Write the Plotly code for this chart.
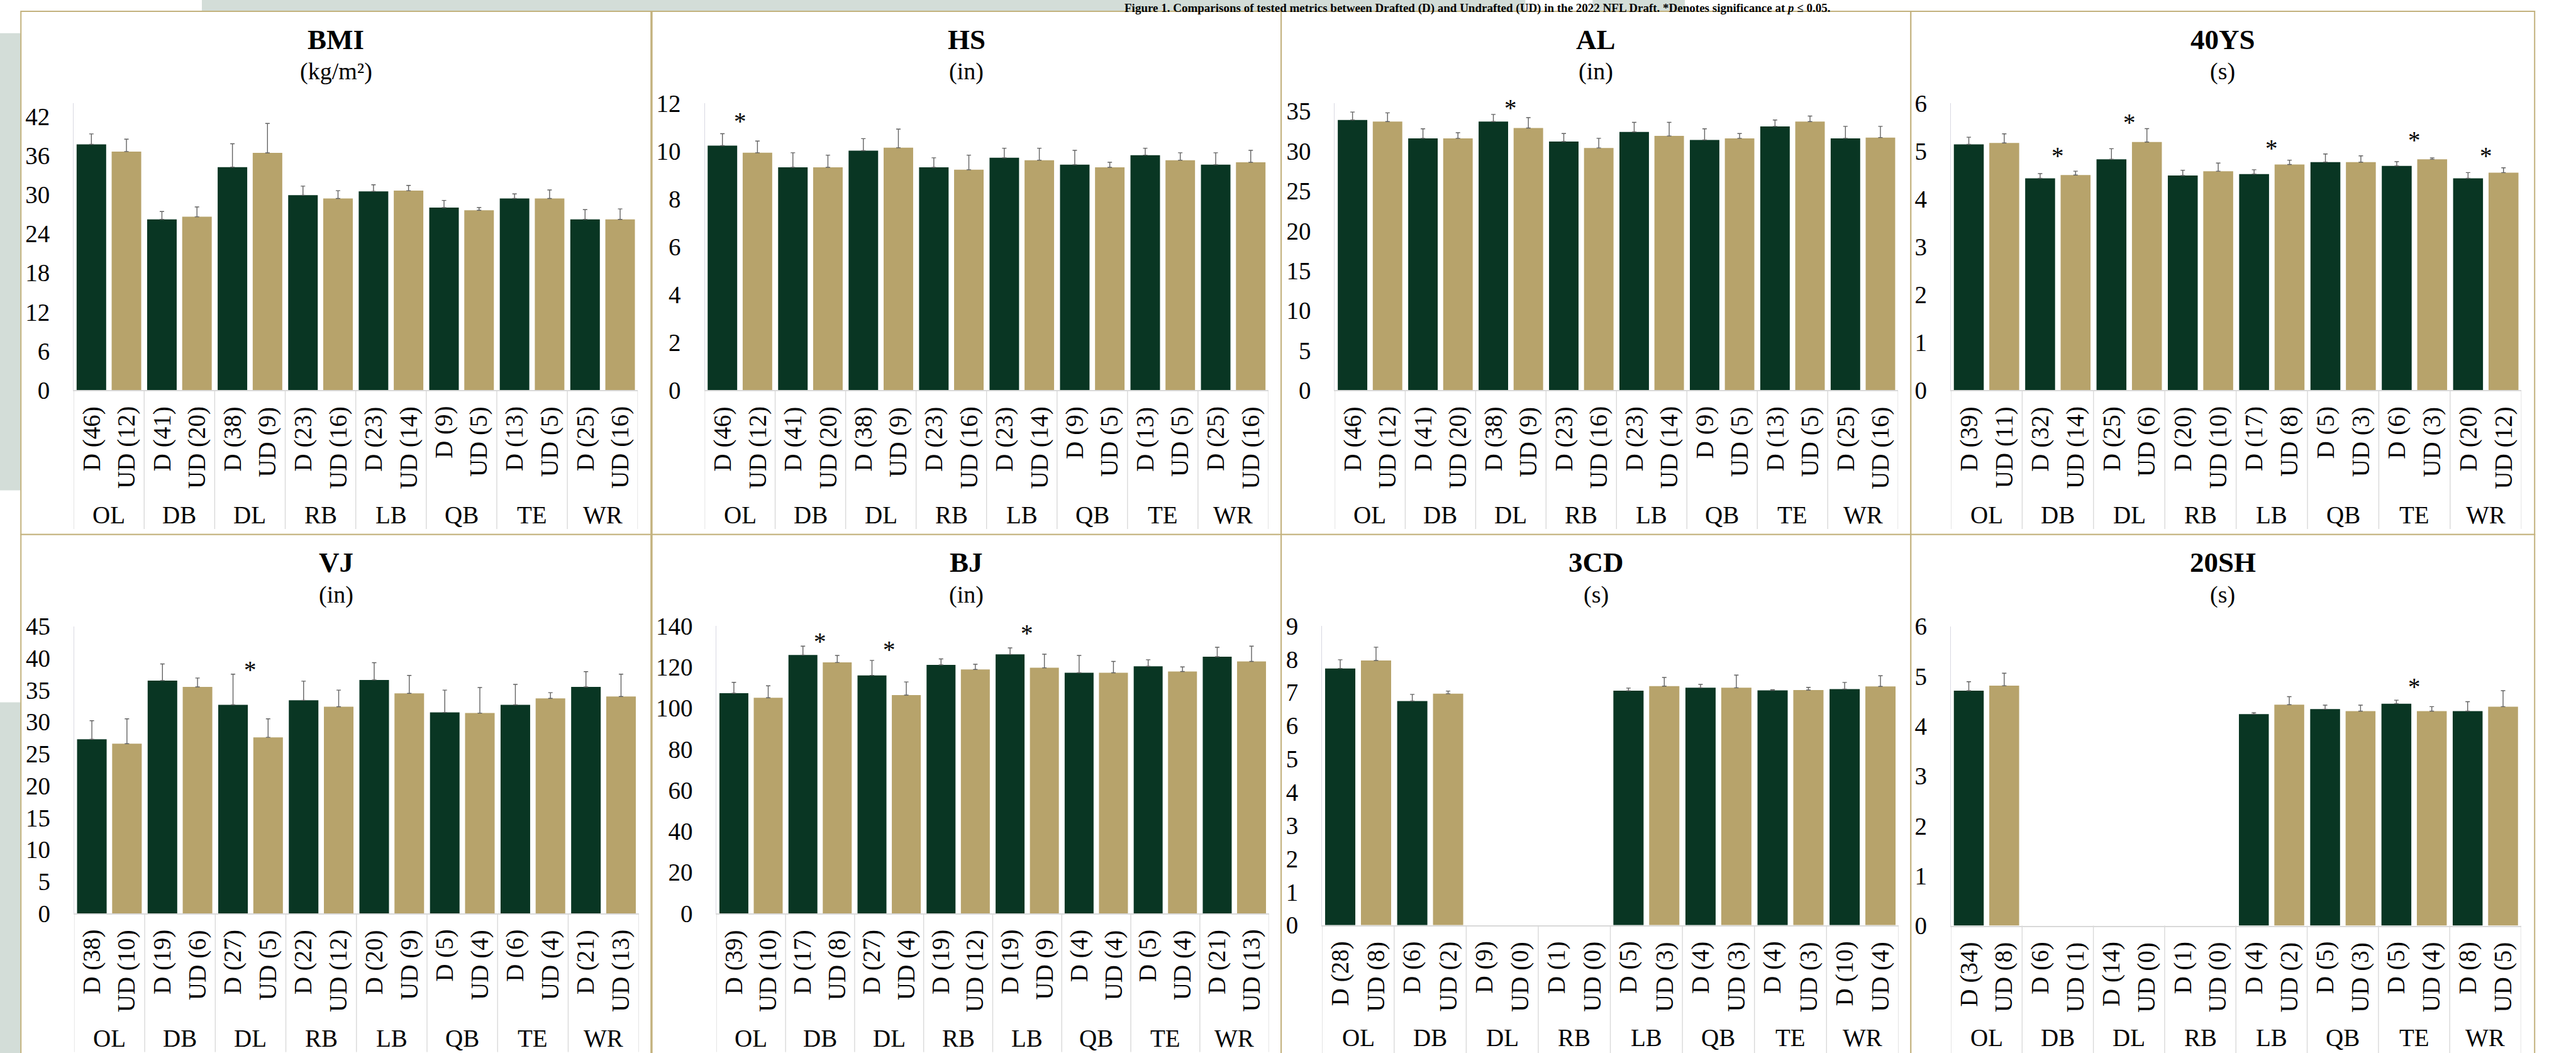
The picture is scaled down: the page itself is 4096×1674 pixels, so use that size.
import plotly.graph_objects as go

# ---------------------------------------------------------------- data
positions = ["OL", "DB", "DL", "RB", "LB", "QB", "TE", "WR"]

# group sizes (drafted / undrafted) per test
n_bmi_d = [46, 41, 38, 23, 23, 9, 13, 25]
n_bmi_ud = [12, 20, 9, 16, 14, 5, 5, 16]
n_40_d = [39, 32, 25, 20, 17, 5, 6, 20]
n_40_ud = [11, 14, 6, 10, 8, 3, 3, 12]
n_vj_d = [38, 19, 27, 22, 20, 5, 6, 21]
n_vj_ud = [10, 6, 5, 12, 9, 4, 4, 13]
n_bj_d = [39, 17, 27, 19, 19, 4, 5, 21]
n_bj_ud = [10, 8, 4, 12, 9, 4, 4, 13]
n_3cd_d = [28, 6, 9, 1, 5, 4, 4, 10]
n_3cd_ud = [8, 2, 0, 0, 3, 3, 3, 4]
n_20_d = [34, 6, 14, 1, 4, 5, 5, 8]
n_20_ud = [8, 1, 0, 0, 2, 3, 4, 5]

# means and standard deviations
bmi_d = [37.7, 26.2, 34.2, 29.9, 30.5, 28.0, 29.4, 26.2]
bmi_d_sd = [1.6, 1.2, 3.6, 1.4, 1.0, 1.1, 0.7, 1.5]
bmi_ud = [36.6, 26.6, 36.4, 29.4, 30.6, 27.6, 29.4, 26.2]
bmi_ud_sd = [1.9, 1.5, 4.5, 1.2, 0.8, 0.4, 1.3, 1.6]

hs_d = [10.23, 9.32, 10.02, 9.32, 9.72, 9.43, 9.83, 9.43]
hs_d_sd = [0.50, 0.61, 0.50, 0.40, 0.40, 0.60, 0.29, 0.50]
hs_ud = [9.93, 9.32, 10.14, 9.22, 9.62, 9.32, 9.62, 9.53]
hs_ud_sd = [0.49, 0.51, 0.78, 0.61, 0.50, 0.21, 0.31, 0.50]

al_d = [33.9, 31.6, 33.7, 31.2, 32.4, 31.4, 33.1, 31.6]
al_d_sd = [1.0, 1.2, 0.9, 1.0, 1.2, 1.4, 0.8, 1.5]
al_ud = [33.7, 31.6, 32.9, 30.4, 31.9, 31.6, 33.7, 31.7]
al_ud_sd = [1.1, 0.7, 1.3, 1.2, 1.7, 0.6, 0.7, 1.4]

ys40_d = [5.14, 4.43, 4.83, 4.49, 4.52, 4.77, 4.69, 4.43]
ys40_d_sd = [0.15, 0.10, 0.22, 0.11, 0.09, 0.17, 0.09, 0.12]
ys40_ud = [5.17, 4.50, 5.19, 4.58, 4.72, 4.77, 4.83, 4.55]
ys40_ud_sd = [0.19, 0.08, 0.28, 0.17, 0.09, 0.13, 0.03, 0.10]

vj_d = [27.3, 36.5, 32.7, 33.4, 36.6, 31.5, 32.7, 35.5]
vj_d_sd = [2.9, 2.6, 4.8, 3.0, 2.7, 3.5, 3.2, 2.4]
vj_ud = [26.6, 35.5, 27.6, 32.4, 34.5, 31.4, 33.7, 34.0]
vj_ud_sd = [3.9, 1.4, 2.9, 2.6, 2.8, 4.0, 0.9, 3.5]

bj_d = [107.2, 125.8, 115.9, 121.0, 126.1, 117.2, 120.3, 125.0]
bj_d_sd = [5.3, 4.3, 7.3, 2.9, 3.2, 8.4, 3.2, 4.6]
bj_ud = [105.0, 122.2, 106.3, 118.8, 119.6, 117.2, 117.8, 122.7]
bj_ud_sd = [5.8, 3.4, 6.4, 2.5, 6.6, 5.5, 2.2, 7.4]

cd3_d = [7.72, 6.74, None, None, 7.05, 7.14, 7.06, 7.10]
cd3_d_sd = [0.26, 0.20, None, None, 0.08, 0.10, 0.02, 0.20]
cd3_ud = [7.96, 6.96, None, None, 7.19, 7.14, 7.07, 7.18]
cd3_ud_sd = [0.40, 0.08, None, None, 0.26, 0.38, 0.08, 0.32]

sh20_d = [4.71, None, None, None, 4.24, 4.34, 4.45, 4.30]
sh20_d_sd = [0.18, None, None, None, 0.03, 0.08, 0.07, 0.19]
sh20_ud = [4.81, None, None, None, 4.43, 4.30, 4.30, 4.39]
sh20_ud_sd = [0.25, None, None, None, 0.16, 0.12, 0.09, 0.32]

# significance markers: (position index, height of the star in axis units)
sig_hs = [(0, 11.45)]
sig_al = [(2, 36.0)]
sig_40 = [(1, 4.99), (2, 5.69), (4, 5.15), (6, 5.32), (7, 4.99)]
sig_vj = [(2, 38.9)]
sig_bj = [(1, 134.5), (2, 130.7), (4, 138.5)]
sig_20 = [(6, 4.88)]

# ---------------------------------------------------------------- style
W_REF, H_REF = 5666, 2315          # layout grid the geometry below is given in
OUT_W, OUT_H = 4096, 1674
K = OUT_W / W_REF

GREEN = "#093623"
TAN = "#b7a36b"
ERR = "#636363"
FRAME = "#c3b27e"
AXIS = "#d9d9d9"
WASH = "#d3ddd8"
FONT = "Liberation Serif, Times New Roman, serif"
F_TICK = round(54 * K)
F_TITLE = round(62 * K)
F_SUB = round(53 * K)

D_OFF, UD_OFF, BAR_W = -0.458, 0.039, 0.419


def fx(x):
    return x / W_REF


def fy(y):
    return 1 - y / H_REF


panels = [
    dict(title="BMI", unit="(kg/m²)", d=bmi_d, dsd=bmi_d_sd, ud=bmi_ud, udsd=bmi_ud_sd,
         nd=n_bmi_d, nud=n_bmi_ud, ymax=44, ticks=list(range(0, 43, 6)), sig=[],
         box=(46, 1432, 25, 1175), plot=(162, 1403, 227, 858), cat_y=1132),
    dict(title="HS", unit="(in)", d=hs_d, dsd=hs_d_sd, ud=hs_ud, udsd=hs_ud_sd,
         nd=n_bmi_d, nud=n_bmi_ud, ymax=12, ticks=list(range(0, 13, 2)), sig=sig_hs,
         box=(1434, 2818, 25, 1175), plot=(1550, 2790, 227, 858), cat_y=1132),
    dict(title="AL", unit="(in)", d=al_d, dsd=al_d_sd, ud=al_ud, udsd=al_ud_sd,
         nd=n_bmi_d, nud=n_bmi_ud, ymax=36, ticks=list(range(0, 36, 5)), sig=sig_al,
         box=(2818, 4203, 25, 1175), plot=(2936, 4175, 227, 858), cat_y=1132),
    dict(title="40YS", unit="(s)", d=ys40_d, dsd=ys40_d_sd, ud=ys40_ud, udsd=ys40_ud_sd,
         nd=n_40_d, nud=n_40_ud, ymax=6, ticks=list(range(0, 7)), sig=sig_40,
         box=(4203, 5575, 25, 1175), plot=(4291, 5546, 227, 858), cat_y=1132),
    dict(title="VJ", unit="(in)", d=vj_d, dsd=vj_d_sd, ud=vj_ud, udsd=vj_ud_sd,
         nd=n_vj_d, nud=n_vj_ud, ymax=45, ticks=list(range(0, 46, 5)), sig=sig_vj,
         box=(46, 1432, 1175, 2325), plot=(163, 1405, 1377, 2008), cat_y=2283),
    dict(title="BJ", unit="(in)", d=bj_d, dsd=bj_d_sd, ud=bj_ud, udsd=bj_ud_sd,
         nd=n_bj_d, nud=n_bj_ud, ymax=140, ticks=list(range(0, 141, 20)), sig=sig_bj,
         box=(1434, 2818, 1175, 2325), plot=(1576, 2791, 1376, 2008), cat_y=2283),
    dict(title="3CD", unit="(s)", d=cd3_d, dsd=cd3_d_sd, ud=cd3_ud, udsd=cd3_ud_sd,
         nd=n_3cd_d, nud=n_3cd_ud, ymax=9, ticks=list(range(0, 10)), sig=[],
         box=(2818, 4203, 1175, 2325), plot=(2908, 4176, 1376, 2034), cat_y=2281),
    dict(title="20SH", unit="(s)", d=sh20_d, dsd=sh20_d_sd, ud=sh20_ud, udsd=sh20_ud_sd,
         nd=n_20_d, nud=n_20_ud, ymax=6, ticks=list(range(0, 7)), sig=sig_20,
         box=(4203, 5575, 1175, 2325), plot=(4291, 5545, 1377, 2035), cat_y=2281),
]

fig = go.Figure()
shapes = []
annotations = []
axes = {}

# faint background wash at the page edges
for x0, x1, y0, y1 in [(0, 46, 73, 1078), (0, 46, 1544, 2315), (444, 3355, 0, 24), (3503, 3706, 0, 24)]:
    shapes.append(dict(type="rect", xref="paper", yref="paper", layer="below",
                       x0=fx(x0), x1=fx(x1), y0=fy(y1), y1=fy(y0),
                       fillcolor=WASH, line=dict(width=0)))

idx = list(range(len(positions)))

for k, p in enumerate(panels, start=1):
    sfx = "" if k == 1 else str(k)
    xr, yr = "x" + sfx, "y" + sfx
    bx0, bx1, by0, by1 = p["box"]
    px0, px1, ptop, pbase = p["plot"]

    # panel frame
    shapes.append(dict(type="rect", xref="paper", yref="paper", layer="below",
                       x0=fx(bx0), x1=fx(bx1), y0=fy(by1), y1=fy(by0),
                       fillcolor="white", line=dict(color=FRAME, width=2)))

    for vals, sds, off, col in [(p["d"], p["dsd"], D_OFF, GREEN), (p["ud"], p["udsd"], UD_OFF, TAN)]:
        fig.add_trace(go.Bar(
            x=idx, y=vals, offset=off, width=BAR_W, xaxis=xr, yaxis=yr,
            marker=dict(color=col, line=dict(width=0)), showlegend=False, hoverinfo="skip",
            error_y=dict(type="data", array=sds, arrayminus=[0] * len(sds), symmetric=False,
                         color=ERR, thickness=1.4, width=3.5),
        ))

    axes["xaxis" + sfx] = dict(domain=[fx(px0), fx(px1)], range=[-0.5, 7.5], anchor=yr,
                               showticklabels=False, ticks="", showgrid=False, zeroline=False,
                               showline=True, linecolor=AXIS, linewidth=1.5, fixedrange=True,
                               automargin=False)
    axes["yaxis" + sfx] = dict(domain=[fy(pbase), fy(ptop)], range=[0, p["ymax"]], anchor=xr,
                               tickvals=p["ticks"], ticks="", showgrid=False, zeroline=False,
                               showline=True, linecolor="#d8d8e2", linewidth=1.2,
                               tickfont=dict(family=FONT, size=F_TICK, color="black"),
                               ticklabelstandoff=round(40 * K), fixedrange=True,
                               automargin=False)

    # category dividers below the axis
    for b in range(len(positions) + 1):
        shapes.append(dict(type="line", xref=xr, yref="paper", x0=b - 0.5, x1=b - 0.5,
                           y0=fy(pbase), y1=fy(min(pbase + 305, H_REF)), line=dict(color=AXIS, width=1.4)))

    # bar labels (rotated) and position labels
    for i, pos in enumerate(positions):
        for off, lab in [(D_OFF + BAR_W / 2, f"D ({p['nd'][i]})"), (UD_OFF + BAR_W / 2, f"UD ({p['nud'][i]})")]:
            annotations.append(dict(xref=xr, yref="paper", x=i + off, y=fy(pbase + 33),
                                    text=lab, textangle=-90, showarrow=False,
                                    xanchor="center", yanchor="top",
                                    font=dict(family=FONT, size=F_TICK, color="black")))
        annotations.append(dict(xref=xr, yref="paper", x=i, y=fy(p["cat_y"]), text=pos,
                                showarrow=False, xanchor="center", yanchor="middle",
                                font=dict(family=FONT, size=F_TICK, color="black")))

    for gi, yv in p["sig"]:
        annotations.append(dict(xref=xr, yref=yr, x=gi, y=yv, text="*", showarrow=False,
                                xanchor="center", yanchor="middle", yshift=-7,
                                font=dict(family=FONT, size=F_TICK, color="black")))

    # panel title and unit
    cx = fx((bx0 + bx1) / 2)
    annotations.append(dict(xref="paper", yref="paper", x=cx, y=fy(by0 + 62), text=f"<b>{p['title']}</b>",
                            showarrow=False, xanchor="center", yanchor="middle",
                            font=dict(family=FONT, size=F_TITLE, color="black")))
    annotations.append(dict(xref="paper", yref="paper", x=cx, y=fy(by0 + 132), text=p["unit"],
                            showarrow=False, xanchor="center", yanchor="middle",
                            font=dict(family=FONT, size=F_SUB, color="black")))

# figure caption in the strip above the panels
annotations.append(dict(
    xref="paper", yref="paper", x=fx(3250), y=1, xanchor="center", yanchor="top",
    showarrow=False,
    text="<b>Figure 1. Comparisons of tested metrics between Drafted (D) and Undrafted (UD) in the 2022 NFL Draft. "
         "*Denotes significance at <i>p</i> ≤ 0.05.</b>",
    font=dict(family=FONT, size=19, color="black")))

fig.update_layout(
    width=OUT_W, height=OUT_H, margin=dict(l=0, r=0, t=0, b=0, autoexpand=False),
    paper_bgcolor="white", plot_bgcolor="rgba(0,0,0,0)",
    barmode="overlay", showlegend=False,
    shapes=shapes, annotations=annotations, **axes,
)

fig.write_html("out.html")
